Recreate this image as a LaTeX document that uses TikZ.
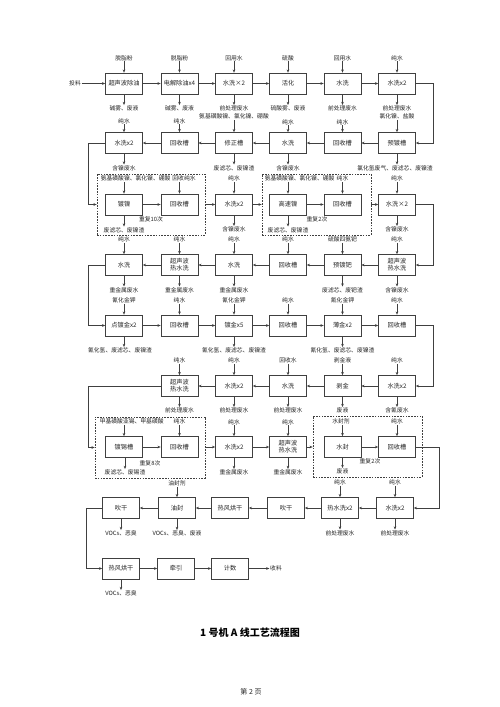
\documentclass[tikz,border=0pt]{standalone}
\usepackage{fontspec}
\setmainfont{Noto Sans CJK SC}
\usetikzlibrary{arrows.meta,calc}
\begin{document}
\begin{tikzpicture}[x=1pt,y=-1pt,
  every node/.style={font=\fontsize{5.8}{6.6}\selectfont, text=black!85},
  pbox/.style={draw=black!75, line width=0.6pt, minimum width=37pt, minimum height=21pt, inner sep=0pt, align=center, fill=white, font=\fontsize{6.2}{7}\selectfont},
  lbl/.style={inner sep=0.6pt},
  arr/.style={draw=black!75, line width=0.5pt, -{Stealth[length=3.2pt,width=2.6pt]}},
  grp/.style={draw=black!75, line width=0.6pt, dash pattern=on 1.6pt off 1.2pt, inner sep=0pt}
]
\useasboundingbox[fill=white] (0,0) rectangle (500,707);

% ---------- Row 1 ----------
\node[pbox] (a1) at (124,83.5) {超声波除油};
\node[pbox] (a2) at (179.5,83.5) {电解除油x4};
\node[pbox] (a3) at (234,83.5) {水洗×2};
\node[pbox] (a4) at (288,83.5) {活化};
\node[pbox] (a5) at (342.5,83.5) {水洗};
\node[pbox] (a6) at (397,83.5) {水洗x2};
\node[lbl] (feed) at (75,83.5) {投料};
\node[lbl] (ia1) at (124,58) {脱脂粉};
\node[lbl] (ia2) at (179.5,58) {脱脂粉};
\node[lbl] (ia3) at (234,58) {回用水};
\node[lbl] (ia4) at (288,58) {硫酸};
\node[lbl] (ia5) at (342.5,58) {回用水};
\node[lbl] (ia6) at (397,58) {纯水};
\node[lbl] (oa1) at (124,108.5) {碱雾、废液};
\node[lbl] (oa2) at (179.5,108.5) {碱雾、废液};
\node[lbl] (oa3) at (234,108.5) {前处理废水};
\node[lbl] (oa4) at (288,108.5) {硫酸雾、废液};
\node[lbl] (oa5) at (342.5,108.5) {前处理废水};
\node[lbl] (oa6) at (397,108.5) {前处理废水};
\foreach \i in {1,...,6}{\draw[arr] (ia\i) -- (a\i); \draw[arr] (a\i) -- (oa\i);}
\draw[arr] (feed) -- (a1);
\draw[arr] (a1) -- (a2); \draw[arr] (a2) -- (a3); \draw[arr] (a3) -- (a4);
\draw[arr] (a4) -- (a5); \draw[arr] (a5) -- (a6);

% ---------- Row 2 ----------
\node[pbox] (b1) at (124,143) {水洗x2};
\node[pbox] (b2) at (179.5,143) {回收槽};
\node[pbox] (b3) at (234,143) {修正槽};
\node[pbox] (b4) at (288,143) {水洗};
\node[pbox] (b5) at (342.5,143) {回收槽};
\node[pbox] (b6) at (397,143) {预镀槽};
\node[lbl] (ib1) at (124,121) {纯水};
\node[lbl] (ib2) at (179.5,121) {纯水};
\node[lbl] (ib3) at (234,116.5) {氨基磺酸镍、氯化镍、硼酸};
\node[lbl] (ib4) at (288,122) {纯水};
\node[lbl] (ib5) at (342.5,122) {纯水};
\node[lbl] (ib6) at (397,116.5) {氯化镍、盐酸};
\foreach \i in {1,...,6}{\draw[arr] (ib\i) -- (b\i);}
\node[lbl] (ob1) at (124,168) {含镍废水};
\node[lbl] (ob3) at (234,168) {废滤芯、废镍渣};
\node[lbl] (ob4) at (288,168) {含镍废水};
\node[lbl] (ob6) at (395,168) {氯化氢废气、废滤芯、废镍渣};
\draw[arr] (b1) -- (ob1); \draw[arr] (b3) -- (ob3);
\draw[arr] (b4) -- (ob4); \draw[arr] (b6.south) -- (b6.south |- ob6.north);
\draw[arr] (a6.east) -- (433,83.5) |- (b6.east);
\draw[arr] (b6) -- (b5); \draw[arr] (b5) -- (b4); \draw[arr] (b4) -- (b3);
\draw[arr] (b3) -- (b2); \draw[arr] (b2) -- (b1);

% ---------- Row 3 ----------
\node[grp, minimum width=108pt, minimum height=61pt] (g1) at (151,204.5) {};
\node[grp, minimum width=109pt, minimum height=61pt] (g2) at (316.5,204.5) {};
\node[pbox] (c1) at (124,204.5) {镀镍};
\node[pbox] (c2) at (179.5,204.5) {回收槽};
\node[pbox] (c3) at (234,204.5) {水洗x2};
\node[pbox] (c4) at (288,204.5) {高速镍};
\node[pbox] (c5) at (342.5,204.5) {回收槽};
\node[pbox] (c6) at (397,204.5) {水洗×2};
\node[lbl, anchor=west] (gl1) at (100,178.5) {氨基磺酸镍、氯化镍、硼酸};
\node[lbl] (ic2) at (184,178.5) {回收纯水};
\node[lbl] (ic3) at (234,178.5) {纯水};
\node[lbl, anchor=west] (gl2) at (264,178.5) {氨基磺酸镍、氯化镍、硼酸};
\node[lbl] (ic5) at (342.5,178.5) {纯水};
\node[lbl] (ic6) at (397,178.5) {纯水};
\draw[arr] (gl1.south -| c1) -- (c1);
\draw[arr] (ic2.south -| c2) -- (c2);
\draw[arr] (ic3) -- (c3);
\draw[arr] (gl2.south -| c4) -- (c4);
\draw[arr] (ic5) -- (c5);
\draw[arr] (ic6) -- (c6);
\node[lbl] (oc1) at (124,230) {废滤芯、废镍渣};
\node[lbl] (oc4) at (288,230) {废滤芯、废镍渣};
\node[lbl] (oc3) at (234,229.5) {含镍废水};
\node[lbl] (oc6) at (397,229.5) {含镍废水};
\node[lbl] (rep1) at (151,219.5) {重复10次};
\node[lbl] (rep2) at (317,219.5) {重复2次};
\draw[arr] (c1) -- (oc1); \draw[arr] (c4) -- (oc4);
\draw[arr] (c3) -- (oc3); \draw[arr] (c6) -- (oc6);
\draw[arr] (b1.west) -- (88,143) |- (g1.west);
\draw[arr] (c1) -- (c2); \draw[arr] (g1) -- (c3); \draw[arr] (c3) -- (g2);
\draw[arr] (c4) -- (c5); \draw[arr] (g2) -- (c6);

% ---------- Row 4 ----------
\node[pbox] (d1) at (124,265) {水洗};
\node[pbox] (d2) at (179.5,265) {超声波\\热水洗};
\node[pbox] (d3) at (234,265) {水洗};
\node[pbox] (d4) at (288,265) {回收槽};
\node[pbox] (d5) at (342.5,265) {预镀钯};
\node[pbox] (d6) at (397,265) {超声波\\热水洗};
\node[lbl] (id1) at (124,239.5) {纯水};
\node[lbl] (id2) at (179.5,239.5) {纯水};
\node[lbl] (id3) at (234,239.5) {纯水};
\node[lbl] (id4) at (288,239.5) {纯水};
\node[lbl] (id5) at (342.5,239.5) {硫酸四氨钯};
\node[lbl] (id6) at (397,239.5) {纯水};
\foreach \i in {1,...,6}{\draw[arr] (id\i) -- (d\i);}
\node[lbl] (od1) at (124,290) {重金属废水};
\node[lbl] (od2) at (179.5,290) {重金属废水};
\node[lbl] (od3) at (234,290) {重金属废水};
\node[lbl] (od5) at (342.5,290) {废滤芯、废钯渣};
\node[lbl] (od6) at (397,290) {含镍废水};
\draw[arr] (d1) -- (od1); \draw[arr] (d2) -- (od2); \draw[arr] (d3) -- (od3);
\draw[arr] (d5) -- (od5); \draw[arr] (d6) -- (od6);
\draw[arr] (c6.east) -- (433,204.5) |- (d6.east);
\draw[arr] (d6) -- (d5); \draw[arr] (d5) -- (d4); \draw[arr] (d4) -- (d3);
\draw[arr] (d3) -- (d2); \draw[arr] (d2) -- (d1);

% ---------- Row 5 ----------
\node[pbox] (e1) at (124,325.5) {点镀金x2};
\node[pbox] (e2) at (179.5,325.5) {回收槽};
\node[pbox] (e3) at (234,325.5) {镀金x5};
\node[pbox] (e4) at (288,325.5) {回收槽};
\node[pbox] (e5) at (342.5,325.5) {薄金x2};
\node[pbox] (e6) at (397,325.5) {回收槽};
\node[lbl] (ie1) at (124,300.5) {氰化金钾};
\node[lbl] (ie2) at (179.5,300.5) {纯水};
\node[lbl] (ie3) at (234,300.5) {氰化金钾};
\node[lbl] (ie4) at (288,300.5) {纯水};
\node[lbl] (ie5) at (342.5,300.5) {氰化金钾};
\node[lbl] (ie6) at (397,300.5) {纯水};
\foreach \i in {1,...,6}{\draw[arr] (ie\i) -- (e\i);}
\node[lbl] (oe1) at (120,350.5) {氰化氢、废滤芯、废镍渣};
\node[lbl] (oe3) at (234,350.5) {氰化氢、废滤芯、废镍渣};
\node[lbl] (oe5) at (342.5,350.5) {氰化氢、废滤芯、废镍渣};
\draw[arr] (e1.south) -- (e1.south |- oe1.north);
\draw[arr] (e3) -- (oe3); \draw[arr] (e5) -- (oe5);
\draw[arr] (d1.west) -- (88,265) |- (e1.west);
\draw[arr] (e1) -- (e2); \draw[arr] (e2) -- (e3); \draw[arr] (e3) -- (e4);
\draw[arr] (e4) -- (e5); \draw[arr] (e5) -- (e6);

% ---------- Row 6 ----------
\node[pbox] (f2) at (179.5,386) {超声波\\热水洗};
\node[pbox] (f3) at (234,386) {水洗x2};
\node[pbox] (f4) at (288,386) {水洗};
\node[pbox] (f5) at (342.5,386) {剥金};
\node[pbox] (f6) at (397,386) {水洗x2};
\node[lbl] (if2) at (179.5,360.5) {纯水};
\node[lbl] (if3) at (234,360.5) {纯水};
\node[lbl] (if4) at (288,360.5) {回收水};
\node[lbl] (if5) at (342.5,360.5) {剥金液};
\node[lbl] (if6) at (397,360.5) {纯水};
\node[lbl] (of2) at (179.5,410.5) {前处理废水};
\node[lbl] (of3) at (234,410.5) {前处理废水};
\node[lbl] (of4) at (288,410.5) {前处理废水};
\node[lbl] (of5) at (342.5,410.5) {废液};
\node[lbl] (of6) at (397,410.5) {含氰废水};
\foreach \i in {2,...,6}{\draw[arr] (if\i) -- (f\i); \draw[arr] (f\i) -- (of\i);}
\draw[arr] (e6.east) -- (433,325.5) |- (f6.east);
\draw[arr] (f6) -- (f5); \draw[arr] (f5) -- (f4); \draw[arr] (f4) -- (f3);
\draw[arr] (f3) -- (f2);

% ---------- Row 7 ----------
\node[grp, minimum width=110pt, minimum height=61pt] (g3) at (150,447.5) {};
\node[grp, minimum width=109pt, minimum height=61pt] (g4) at (367.5,446.5) {};
\node[pbox] (h1) at (124,447) {镀锡槽};
\node[pbox] (h2) at (179.5,447) {回收槽};
\node[pbox] (h3) at (234,447) {水洗x2};
\node[pbox] (h4) at (288,447) {超声波\\热水洗};
\node[pbox] (h5) at (342.5,447) {水封};
\node[pbox] (h6) at (397,447) {回收槽};
\node[lbl, anchor=west] (gl3) at (99,421.5) {甲基磺酸亚锡、甲基磺酸};
\node[lbl] (ih2) at (179.5,421.5) {纯水};
\node[lbl] (ih3) at (234,422) {纯水};
\node[lbl] (ih4) at (288,422) {纯水};
\node[lbl] (ih5) at (341,421.5) {水封剂};
\node[lbl] (ih6) at (397,421.5) {纯水};
\draw[arr] (gl3.south -| h1) -- (h1);
\draw[arr] (ih2) -- (h2); \draw[arr] (ih3) -- (h3); \draw[arr] (ih4) -- (h4);
\draw[arr] (ih5.south -| h5) -- (h5); \draw[arr] (ih6) -- (h6);
\node[lbl] (oh1) at (125,472.5) {废滤芯、废锡渣};
\node[lbl] (oh3) at (234,472.5) {重金属废水};
\node[lbl] (oh4) at (288,472.5) {重金属废水};
\node[lbl] (oh5) at (342.5,471.5) {废液};
\node[lbl] (rep3) at (150,463.5) {重复8次};
\node[lbl] (rep4) at (370,461.5) {重复2次};
\draw[arr] (h1.south -| oh1) -- (oh1); \draw[arr] (h3) -- (oh3);
\draw[arr] (h4) -- (oh4); \draw[arr] (h5) -- (oh5);
\draw[arr] (f2.west) -- (88,386) |- (g3.west);
\draw[arr] (h1) -- (h2); \draw[arr] (g3.east |- h3) -- (h3); \draw[arr] (h3) -- (h4);
\draw[arr] (h4) -- (g4.west |- h4); \draw[arr] (h5) -- (h6);

% ---------- Row 8 ----------
\node[pbox] (i1) at (121,508) {吹干};
\node[pbox] (i2) at (177,508) {油封};
\node[pbox] (i3) at (230,508) {热风烘干};
\node[pbox] (i4) at (286,508) {吹干};
\node[pbox] (i5) at (340,508) {热水洗x2};
\node[pbox] (i6) at (395,508) {水洗x2};
\node[lbl] (ii2) at (177,483.5) {油封剂};
\node[lbl] (ii5) at (340,482.5) {纯水};
\node[lbl] (ii6) at (395,482.5) {纯水};
\draw[arr] (ii2) -- (i2); \draw[arr] (ii5) -- (i5); \draw[arr] (ii6) -- (i6);
\node[lbl] (oi1) at (121,533.5) {VOCs、恶臭};
\node[lbl] (oi2) at (177,533.5) {VOCs、恶臭、废液};
\node[lbl] (oi5) at (340,533) {前处理废水};
\node[lbl] (oi6) at (395,533) {前处理废水};
\draw[arr] (i1) -- (oi1); \draw[arr] (i2) -- (oi2);
\draw[arr] (i5) -- (oi5); \draw[arr] (i6) -- (oi6);
\draw[arr] (h6.east) -- (439,447) |- (i6.east);
\draw[arr] (i6) -- (i5); \draw[arr] (i5) -- (i4); \draw[arr] (i4) -- (i3);
\draw[arr] (i3) -- (i2); \draw[arr] (i2) -- (i1);

% ---------- Row 9 ----------
\node[pbox] (j1) at (121,568.5) {热风烘干};
\node[pbox] (j2) at (176,568.5) {牵引};
\node[pbox] (j3) at (230,568.5) {计数};
\node[lbl] (out) at (276,568.5) {收料};
\node[lbl] (oj1) at (121,593.5) {VOCs、恶臭};
\draw[arr] (j1) -- (oj1);
\draw[arr] (i1.west) -- (86,508) |- (j1.west);
\draw[arr] (j1) -- (j2); \draw[arr] (j2) -- (j3); \draw[arr] (j3) -- (out);

% ---------- Title & footer ----------
\node[font=\fontsize{10}{12}\selectfont\bfseries, text=black] (title) at (250,633) {1 号机 A 线工艺流程图};
\node[font=\fontsize{7}{8}\selectfont, text=black!85] (page) at (251,692) {第 2 页};
\end{tikzpicture}
\end{document}
